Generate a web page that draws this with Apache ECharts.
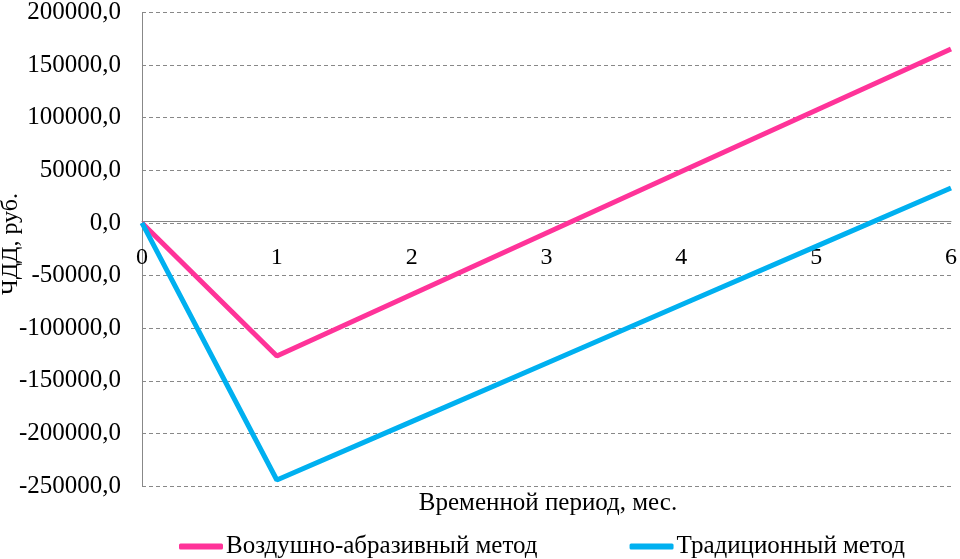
<!DOCTYPE html>
<html>
<head>
<meta charset="utf-8">
<script src="https://cdn.jsdelivr.net/npm/echarts@6/dist/echarts.min.js"></script>
<style>html,body{margin:0;padding:0;background:#fff}#c{width:960px;height:559px}</style>
</head>
<body>
<div id="c"></div>
<script>
const categories = ['0', '1', '2', '3', '4', '5', '6'];
const airAbrasive = [0, -126400, -68000, -9600, 48800, 107100, 165400];
const traditional = [0, -244300, -188800, -133300, -77800, -22300, 33200];
const seriesNames = ['Воздушно-абразивный метод', 'Традиционный метод'];
const yTitle = 'ЧДД, руб.';
const xTitle = 'Временной период, мес.';

const FONT = 'Liberation Serif';
const chart = echarts.init(document.getElementById('c'));
chart.setOption({
  animation: false,
  backgroundColor: '#fff',
  textStyle: { fontFamily: FONT, color: '#000' },
  grid: { left: 142, right: 7, top: 9, bottom: 73, containLabel: false },
  legend: {
    bottom: -5,
    left: 174,
    itemWidth: 44,
    itemHeight: 6,
    itemGap: 92,
    icon: 'roundRect',
    textStyle: { fontFamily: FONT, fontSize: 25, color: '#000', padding: [0, 0, 0, -2] },
    data: seriesNames
  },
  graphic: [
    {
      type: 'text', x: 11, y: 244, rotation: Math.PI / 2,
      style: { text: yTitle, font: '24px "Liberation Serif"', fill: '#000', align: 'center', verticalAlign: 'middle' }
    },
    {
      type: 'text', x: 548, y: 503,
      style: { text: xTitle, font: '25px "Liberation Serif"', fill: '#000', align: 'center', verticalAlign: 'middle' }
    }
  ],
  xAxis: {
    type: 'category',
    data: categories,
    boundaryGap: false,
    position: 'bottom',
    offset: -265,
    axisLine: { onZero: false, lineStyle: { color: '#888', width: 1 } },
    axisTick: { show: false },
    axisLabel: { fontFamily: FONT, fontSize: 24, color: '#000', margin: 25 },
    splitLine: { show: false }
  },
  yAxis: {
    type: 'value',
    min: -250000,
    max: 200000,
    interval: 50000,
    axisLine: { show: true, lineStyle: { color: '#888', width: 1 } },
    axisTick: { show: false },
    axisLabel: {
      fontFamily: FONT, fontSize: 25, color: '#000', margin: 21,
      formatter: v => v.toFixed(1).replace('.', ',')
    },
    splitLine: { show: true, lineStyle: { color: '#888', type: [4, 3], width: 1 } }
  },
  series: [
    {
      name: seriesNames[0], type: 'line', data: airAbrasive,
      symbol: 'none', lineStyle: { color: '#FF3399', width: 5 }, itemStyle: { color: '#FF3399' }
    },
    {
      name: seriesNames[1], type: 'line', data: traditional,
      symbol: 'none', lineStyle: { color: '#00B0F0', width: 5 }, itemStyle: { color: '#00B0F0' }
    }
  ]
});
</script>
</body>
</html>
